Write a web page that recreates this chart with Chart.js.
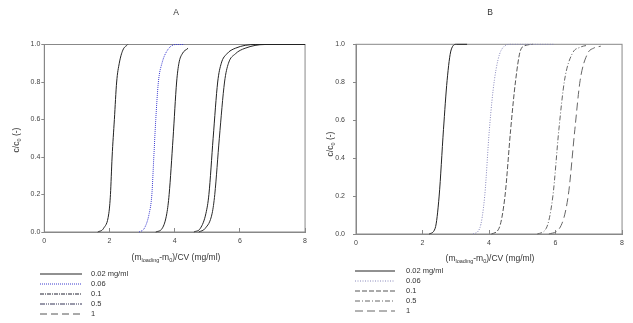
<!DOCTYPE html>
<html>
<head>
<meta charset="utf-8">
<script src="https://cdn.jsdelivr.net/npm/chart.js@4.4.0/dist/chart.umd.min.js"></script>
<style>
body{margin:0;background:#fff;font-family:"Liberation Sans",Arial,sans-serif;color:#333}
#wrap{position:relative;width:633px;height:323px;overflow:hidden}
canvas{position:absolute;top:0}
.t{position:absolute;white-space:nowrap;transform:translate(-50%,-50%);line-height:1}
.ptitle{font-size:8.5px}
.xtitle{font-size:8.5px}
.ytitle{font-size:8.5px;transform:translate(-50%,-50%) rotate(-90deg)}
sub{font-size:5.5px;vertical-align:-2px;line-height:0}
.lg{position:absolute;font-size:7.5px;line-height:1}
.lg svg{position:absolute;overflow:visible}
.lg span{position:absolute;white-space:nowrap;transform:translateY(-50%)}
</style>
</head>
<body>
<div id="wrap">
  <canvas id="chartA" width="316" height="323" style="left:0"></canvas>
  <canvas id="chartB" width="317" height="323" style="left:316px"></canvas>
  <div class="t ptitle" style="left:176px;top:12px">A</div>
  <div class="t ptitle" style="left:490px;top:12px">B</div>
  <div class="t ytitle" style="left:16px;top:140px">c/c<sub>0</sub> (-)</div>
  <div class="t ytitle" style="left:330px;top:144px">c/c<sub>0</sub> (-)</div>
  <div class="t xtitle" style="left:176px;top:257px">(m<sub>loading</sub>-m<sub>0</sub>)/CV (mg/ml)</div>
  <div class="t xtitle" style="left:490px;top:258px">(m<sub>loading</sub>-m<sub>0</sub>)/CV (mg/ml)</div>
  <div id="legA" class="lg" style="left:0;top:0"></div>
  <div id="legB" class="lg" style="left:0;top:0"></div>
</div>
<script>
/* breakthrough curves, two panels */
const labels = ['0.02 mg/ml', '0.06', '0.1', '0.5', '1'];
const xTicks = [0, 2, 4, 6, 8];
const yTicks = [0, 0.2, 0.4, 0.6, 0.8, 1.0];

// panel A
const aX1 = [1.64, 1.82, 1.98, 2.03, 2.08, 2.15, 2.22, 2.30, 2.41, 2.56];
const aY1 = [0, 0.02, 0.1, 0.2, 0.4, 0.6, 0.8, 0.9, 0.97, 1.0];
const aX2 = [2.91, 3.07, 3.22, 3.30, 3.36, 3.42, 3.50, 3.61, 3.78, 4.03, 4.29];
const aY2 = [0, 0.02, 0.1, 0.2, 0.4, 0.6, 0.8, 0.9, 0.97, 1.0, 1.0];
const aX3 = [3.42, 3.62, 3.76, 3.83, 3.95, 4.06, 4.13, 4.23, 4.41];
const aY3 = [0, 0.02, 0.1, 0.2, 0.5, 0.8, 0.9, 0.95, 0.98];
const aX4 = [4.59, 4.79, 4.96, 5.05, 5.18, 5.32, 5.43, 5.60, 5.86, 6.47, 8];
const aY4 = [0, 0.02, 0.1, 0.2, 0.5, 0.8, 0.9, 0.95, 0.98, 1.0, 1.0];
const aX5 = [4.74, 4.94, 5.15, 5.23, 5.37, 5.53, 5.65, 5.86, 6.16, 6.77, 8];
const aY5 = [0, 0.02, 0.1, 0.2, 0.5, 0.8, 0.9, 0.95, 0.98, 1.0, 1.0];

// panel B
const bX1 = [2.2, 2.38, 2.50, 2.63, 2.74, 2.86, 3.02, 3.34];
const bY1 = [0, 0.03, 0.2, 0.55, 0.81, 0.97, 1.0, 1.0];
const bX2 = [3.52, 3.72, 3.87, 4.01, 4.16, 4.37, 4.66, 5.96];
const bY2 = [0, 0.03, 0.2, 0.55, 0.81, 0.97, 1.0, 1.0];
const bX3 = [4.07, 4.30, 4.48, 4.65, 4.80, 4.95, 5.12, 5.32];
const bY3 = [0, 0.03, 0.2, 0.55, 0.81, 0.97, 0.995, 1.0];
const bX4 = [5.45, 5.72, 5.92, 6.10, 6.27, 6.50, 6.75, 6.96];
const bY4 = [0, 0.03, 0.2, 0.55, 0.81, 0.95, 0.985, 0.995];
const bX5 = [5.80, 6.12, 6.38, 6.58, 6.74, 6.96, 7.15, 7.36];
const bY5 = [0, 0.03, 0.2, 0.55, 0.81, 0.95, 0.98, 0.99];

// line styles
const aColors = ['#222', '#3b3bd0', '#222', '#222', '#2a2a2a'];
const aDash = [[], [1, 1], [], [], []];
const aLegColors = ['#222', '#3b3bd0', '#223', '#335', '#555'];
const aLegDash = [[], [1, 1], [4, 1, 1, 1], [5, 1, 1, 1, 1, 1], [7, 4]];
const bColors = ['#222', '#8888bb', '#555', '#666', '#666'];
const bDash = [[], [1, 1.5], [5, 2], [5, 2, 1, 2], [8, 4]];

const FONT = '"Liberation Sans", Arial, sans-serif';

const frame = {
  id: 'frame',
  beforeDatasetsDraw(c){
    const a = c.chartArea, ctx = c.ctx;
    ctx.save();
    ctx.strokeStyle = '#888';
    ctx.lineWidth = 1;
    ctx.strokeRect(a.left, a.top, a.right - a.left, a.bottom - a.top);
    ctx.restore();
  }
};

function makeChart(id, xs, ys, colors, dashes, lay){
  const datasets = xs.map((xArr, i) => ({
    label: labels[i],
    data: xArr.map((x, j) => ({x, y: ys[i][j]})),
    borderColor: colors[i],
    borderDash: dashes[i],
    borderWidth: 1,
    pointRadius: 0,
    cubicInterpolationMode: 'monotone',
    fill: false,
    clip: 3
  }));
  return new Chart(document.getElementById(id), {
    type: 'line',
    data: {datasets},
    plugins: [frame],
    options: {
      responsive: false,
      animation: false,
      layout: {padding: lay.padding},
      plugins: {legend: {display: false}, tooltip: {enabled: false}, title: {display: false}},
      scales: {
        x: {
          type: 'linear', min: 0, max: 8,
          afterBuildTicks: s => { s.ticks = xTicks.map(v => ({value: v})); },
          afterFit: s => { s.height = 34; },
          ticks: {font: {size: 7, family: FONT}, color: '#444', padding: 9, maxRotation: 0},
          grid: {drawOnChartArea: false, tickLength: -4, color: '#888'},
          border: {color: '#888'}
        },
        y: {
          min: 0, max: 1,
          afterBuildTicks: s => { s.ticks = yTicks.map(v => ({value: v})); },
          afterFit: s => { s.width = lay.yWidth; },
          ticks: {font: {size: 7, family: FONT}, color: '#444', padding: lay.yPad, callback: v => v.toFixed(1)},
          grid: {drawOnChartArea: false, tickLength: 3, color: '#888'},
          border: {color: '#888'}
        }
      }
    }
  });
}

function buildLegend(id, colors, dashes, x0, len, tx, rowsY){
  const el = document.getElementById(id);
  labels.forEach((lab, i) => {
    const y = rowsY[i];
    const svg = document.createElementNS('http://www.w3.org/2000/svg', 'svg');
    svg.setAttribute('width', len); svg.setAttribute('height', 2);
    svg.style.left = x0 + 'px'; svg.style.top = (y - 1) + 'px';
    const ln = document.createElementNS('http://www.w3.org/2000/svg', 'line');
    ln.setAttribute('x1', 0); ln.setAttribute('x2', len);
    ln.setAttribute('y1', 1); ln.setAttribute('y2', 1);
    ln.setAttribute('stroke', colors[i]); ln.setAttribute('stroke-width', 1);
    if(dashes[i].length) ln.setAttribute('stroke-dasharray', dashes[i].join(' '));
    svg.appendChild(ln);
    el.appendChild(svg);
    const sp = document.createElement('span');
    sp.textContent = lab;
    sp.style.left = tx + 'px'; sp.style.top = y + 'px';
    el.appendChild(sp);
  });
}

makeChart('chartA', [aX1, aX2, aX3, aX4, aX5], [aY1, aY2, aY3, aY4, aY5], aColors, aDash,
  {padding: {top: 44.5, right: 9, bottom: 57, left: 0}, yWidth: 44.3, yPad: 1});
makeChart('chartB', [bX1, bX2, bX3, bX4, bX5], [bY1, bY2, bY3, bY4, bY5], bColors, bDash,
  {padding: {top: 44.3, right: 10, bottom: 55, left: 0}, yWidth: 40, yPad: 8});

buildLegend('legA', aLegColors, aLegDash, 40, 42, 91, [274, 284, 294, 304, 314]);
buildLegend('legB', bColors, bDash, 355, 40, 406, [271, 281, 291, 301, 311]);
</script>
</body>
</html>
